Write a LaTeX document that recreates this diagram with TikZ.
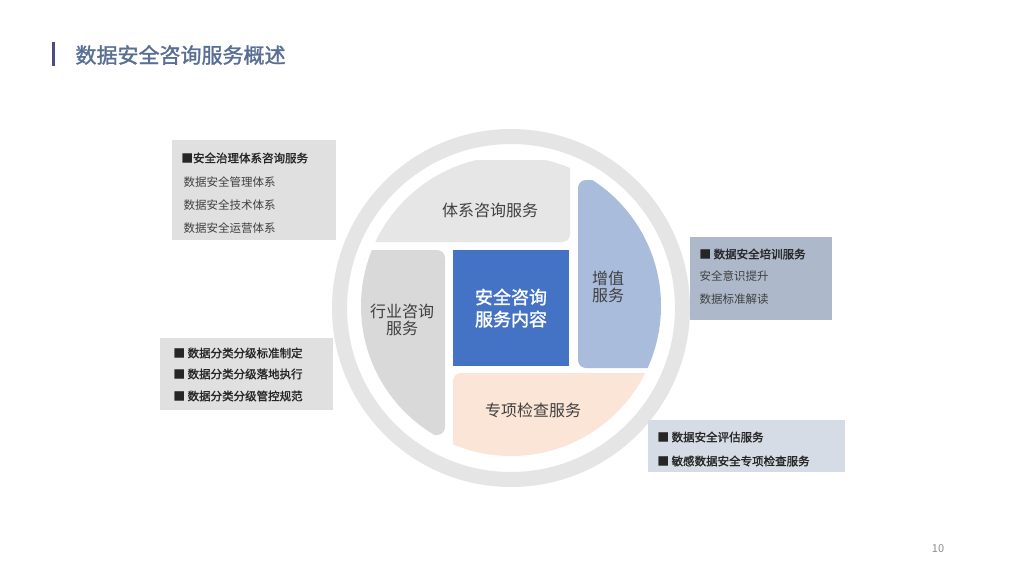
\documentclass[tikz,border=0pt]{standalone}
\usepackage{fontspec}
\setmainfont{Noto Sans CJK SC}
\newfontfamily\cjkb[FakeBold=1.5]{Noto Sans CJK SC}
\begin{document}
\begin{tikzpicture}[x=1pt,y=-1pt,
  seg/.style={rounded corners=8pt},
  lbl/.style={text=black!75,font=\fontsize{16}{19}\selectfont,align=center},
  box/.style={inner sep=0pt,anchor=north west},
  bl/.style={anchor=west,font=\cjkb\fontsize{11.5}{13}\selectfont,text=black!85},
  nl/.style={anchor=west,font=\fontsize{11.5}{13}\selectfont,text=black!75}]
\useasboundingbox (0,0) rectangle (1024,576);
\fill[white] (0,0) rectangle (1024,576);
% title
\fill[black!50!blue!40!gray] (52,42) rectangle (54.5,66);
\node[anchor=west,font=\cjkb\fontsize{21}{24}\selectfont,text={rgb,255:red,88;green,110;blue,148}] (title) at (72,55) {数据安全咨询服务概述};
% ring
\draw[line width=15pt,color=black!10] (511,308) circle (171.5);
% segments
\begin{scope}
\clip (511,306) circle (150);
\fill[seg,fill={rgb,255:red,231;green,230;blue,230}] (340,160) rectangle (570,242);
\fill[seg,fill={rgb,255:red,169;green,188;blue,220}] (578,180) rectangle (680,368);
\fill[seg,fill={rgb,255:red,217;green,217;blue,217}] (340,250) rectangle (445,435);
\fill[seg,fill={rgb,255:red,251;green,229;blue,214}] (453,373) rectangle (680,470);
\end{scope}
\fill[fill={rgb,255:red,68;green,114;blue,196}] (453,250) rectangle (569,366);
\node[lbl] (top) at (490,210) {体系咨询服务};
\node[lbl] (right) at (608,287) {增值\\[-2pt]服务};
\node[lbl] (left) at (402,320) {行业咨询\\[-2pt]服务};
\node[lbl] (bottom) at (533,410) {专项检查服务};
\node[font=\cjkb\fontsize{18}{22}\selectfont,text=white,align=center] (center) at (511,308) {安全咨询\\服务内容};
% boxes
\fill[black!12] (172,140) rectangle (336,240);
\node[bl] (b1) at (178,158) {■安全治理体系咨询服务};
\node[nl] (b1a) at (180,182) {数据安全管理体系};
\node[nl] (b1b) at (180,205) {数据安全技术体系};
\node[nl] (b1c) at (180,228) {数据安全运营体系};
\fill[fill={rgb,255:red,173;green,185;blue,202}] (690,237) rectangle (832,320);
\node[bl] (b2) at (696,254) {■ 数据安全培训服务};
\node[nl] (b2a) at (696,276) {安全意识提升};
\node[nl] (b2b) at (696,299) {数据标准解读};
\fill[black!12] (160,338) rectangle (333,410);
\node[bl] (b3a) at (170,353) {■ 数据分类分级标准制定};
\node[bl] (b3b) at (170,374) {■ 数据分类分级落地执行};
\node[bl] (b3c) at (170,396) {■ 数据分类分级管控规范};
\fill[fill={rgb,255:red,214;green,220;blue,229}] (648,420) rectangle (845,472);
\node[bl] (b4a) at (654,437) {■ 数据安全评估服务};
\node[bl] (b4b) at (654,461) {■ 敏感数据安全专项检查服务};
\node[font=\fontsize{11}{13}\selectfont,text=black!45] (pg) at (938,549) {10};
\end{tikzpicture}
\end{document}
